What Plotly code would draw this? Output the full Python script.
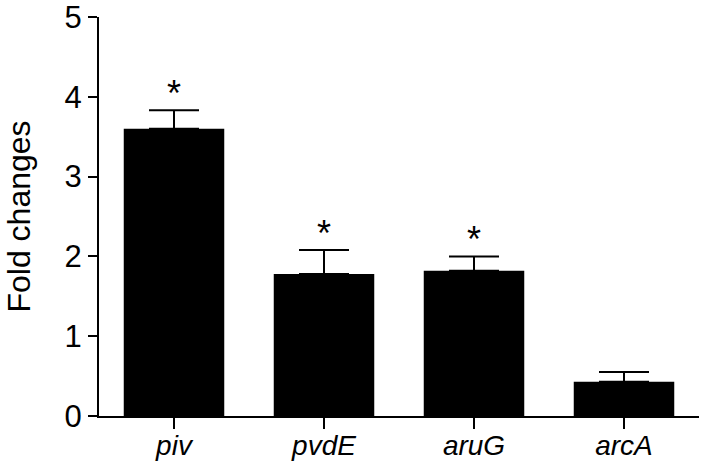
import plotly.graph_objects as go

genes = ["piv", "pvdE", "aruG", "arcA"]
fold_changes = [3.60, 1.78, 1.82, 0.43]
errors = [0.23, 0.30, 0.18, 0.12]
significance = ["*", "*", "*", ""]
y_ticks = [0, 1, 2, 3, 4, 5]

FONT = "Liberation Sans, Arial, Helvetica, sans-serif"

fig = go.Figure()
fig.add_trace(go.Bar(
    x=genes,
    y=fold_changes,
    marker=dict(color="black", line=dict(width=0)),
    error_y=dict(type="data", array=errors, arrayminus=[0] * len(errors),
                 symmetric=False, color="black", thickness=2, width=25),
    width=0.67,
))

for g, v, e, s in zip(genes, fold_changes, errors, significance):
    if s:
        fig.add_annotation(x=g, y=v + e, text=s, showarrow=False,
                           yanchor="middle", yshift=17,
                           font=dict(family=FONT, size=36, color="black"))

fig.update_layout(
    width=706, height=466,
    margin=dict(l=99, r=7, t=17, b=50),
    paper_bgcolor="white", plot_bgcolor="white",
    showlegend=False,
    font=dict(family=FONT, color="black"),
)
fig.update_xaxes(
    range=[-0.5, 3.5],
    automargin=False,
    showline=True, linecolor="black", linewidth=2,
    ticks="outside", ticklen=11, tickwidth=2, tickcolor="black",
    tickvals=genes,
    ticktext=["<i>" + g + "</i>" for g in genes],
    tickfont=dict(family=FONT, size=28, color="black"),
    ticklabeloverflow="allow",
    ticklabelstandoff=-8,
    showgrid=False, zeroline=False,
)
fig.update_yaxes(
    range=[0, 5],
    automargin=False,
    tickvals=y_ticks,
    showline=True, linecolor="black", linewidth=2,
    ticks="outside", ticklen=9, tickwidth=2, tickcolor="black",
    tickfont=dict(family=FONT, size=31, color="black"),
    ticklabeloverflow="allow",
    title=dict(text="Fold changes", font=dict(family=FONT, size=32, color="black"), standoff=24),
    showgrid=False, zeroline=False,
)

fig.write_html("out.html", config={"displayModeBar": False},
               post_script="document.body.style.margin='0';")
